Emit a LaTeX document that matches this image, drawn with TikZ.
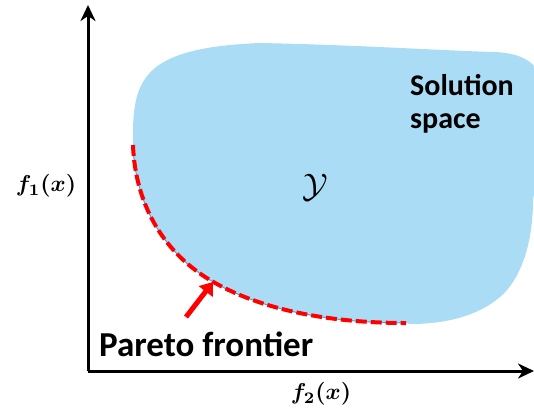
\documentclass[tikz,border=0pt]{standalone}
\usepackage{amsmath,amssymb,bm}
\usepackage{fontspec}
\setmainfont{Carlito}
\usetikzlibrary{positioning, arrows.meta}
\definecolor{solblue}{RGB}{170,220,245}
\definecolor{edgeblue}{RGB}{91,155,213}
\tikzset{
  axis/.style={line width=3pt, -{Stealth[length=16pt, width=15pt, inset=5pt]}},
  frontier/.style={red, line width=4pt, dash pattern=on 11pt off 4pt},
  lbl/.style={font=\bfseries\fontsize{30}{33}\selectfont, align=left, inner sep=0pt},
  mlbl/.style={inner sep=0pt},
  pointer/.style={red, line width=5pt, -{Triangle[length=12pt, width=17pt]}},
}
\begin{document}
\begin{tikzpicture}[x=1pt, y=-1pt]
\useasboundingbox (0,0) rectangle (534,410);
\clip (0,0) rectangle (534,410);
\coordinate (origin) at (88,371);
\coordinate (ytip) at (88,5);
\coordinate (xtip) at (534,371);
\coordinate (pstart) at (133,145);
\coordinate (pend) at (406,323);
\coordinate (ptail) at (186,317);
\coordinate (phead) at (213,282);
\fill[solblue] (pstart) .. controls (132,80) and (140,48) .. (260,43)
  .. controls (360,45) and (450,51) .. (495,52)
  .. controls (515,53) and (528,58) .. (536,68)
  .. controls (545,90) and (540,160) .. (533,200)
  .. controls (533,245) and (520,280) .. (500,297)
  .. controls (480,314) and (450,324) .. (410,324) -- (pend)
  .. controls (330,323) and (260,310) .. (210,280)
  .. controls (160,250) and (135,200) .. (pstart);
\draw[edgeblue, line width=1pt] (pstart) .. controls (135,200) and (160,250) .. (210,280)
  .. controls (260,310) and (330,323) .. (pend);
\draw[frontier] (pstart) .. controls (135,200) and (160,250) .. (210,280)
  .. controls (260,310) and (330,323) .. (pend);
\draw[axis] (origin) -- (ytip);
\draw[axis] (origin) -- (xtip);
\draw[pointer] (ptail) -- (phead);
\node[lbl] (space) at (462,104) {Solution\\space};
\node[lbl, font=\bfseries\fontsize{35}{40}\selectfont, anchor=base west] (pareto) at (99,356) {Pareto frontier};
\node[mlbl] (fone) at (46,186) {\scalebox{2.3}{$\boldsymbol{f_1(x)}$}};
\node[mlbl] (ftwo) at (321,394) {\scalebox{2.3}{$\boldsymbol{f_2(x)}$}};
\node[mlbl] (ylab) at (315,188) {\scalebox{3.4}{$\mathcal{Y}$}};
\end{tikzpicture}
\end{document}
